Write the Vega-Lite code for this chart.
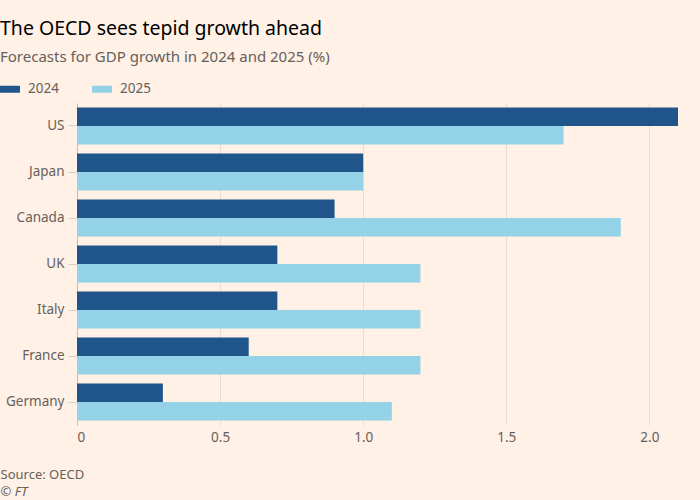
{
  "$schema": "https://vega.github.io/schema/vega-lite/v6.json",
  "width": 601,
  "height": 322,
  "autosize": {"type": "none"},
  "padding": {"left": 77, "top": 103, "right": 22, "bottom": 75},
  "background": "#FFF1E5",
  "title": {
    "text": "The OECD sees tepid growth ahead",
    "subtitle": "Forecasts for GDP growth in 2024 and 2025 (%)",
    "anchor": "start",
    "frame": "group",
    "dx": -77,
    "offset": 13,
    "font": "Noto Sans",
    "fontSize": 19.5,
    "fontWeight": "normal",
    "color": "#000000",
    "subtitleFont": "Noto Sans",
    "subtitleFontSize": 15,
    "subtitleColor": "#66605c",
    "subtitlePadding": 11
  },
  "data": {
    "values": [
      {"country": "US", "year": "2024", "growth": 2.1},
      {"country": "US", "year": "2025", "growth": 1.7},
      {"country": "Japan", "year": "2024", "growth": 1.0},
      {"country": "Japan", "year": "2025", "growth": 1.0},
      {"country": "Canada", "year": "2024", "growth": 0.9},
      {"country": "Canada", "year": "2025", "growth": 1.9},
      {"country": "UK", "year": "2024", "growth": 0.7},
      {"country": "UK", "year": "2025", "growth": 1.2},
      {"country": "Italy", "year": "2024", "growth": 0.7},
      {"country": "Italy", "year": "2025", "growth": 1.2},
      {"country": "France", "year": "2024", "growth": 0.6},
      {"country": "France", "year": "2025", "growth": 1.2},
      {"country": "Germany", "year": "2024", "growth": 0.3},
      {"country": "Germany", "year": "2025", "growth": 1.1}
    ]
  },
  "mark": {"type": "bar"},
  "encoding": {
    "y": {
      "field": "country",
      "type": "nominal",
      "sort": ["US", "Japan", "Canada", "UK", "Italy", "France", "Germany"],
      "scale": {"paddingInner": 0.2, "paddingOuter": 0.1},
      "axis": {
        "title": "© FT",
        "titleAngle": 0,
        "titleX": -77,
        "titleY": 388,
        "titleAlign": "left",
        "titleBaseline": "middle",
        "titleFont": "Noto Sans",
        "titleFontSize": 13,
        "titleFontWeight": "normal",
        "titleFontStyle": "italic",
        "titleColor": "#66605c",
        "labelFont": "Noto Sans",
        "labelFontSize": 13.5,
        "labelColor": "#66605c",
        "labelPadding": 4,
        "tickSize": 9,
        "tickColor": "#d9cfc6",
        "domainColor": "#c0bcb8",
        "grid": false
      }
    },
    "yOffset": {"field": "year", "type": "nominal", "sort": ["2024", "2025"]},
    "x": {
      "field": "growth",
      "type": "quantitative",
      "scale": {"domain": [0, 2.1], "nice": false},
      "axis": {
        "values": [0, 0.5, 1, 1.5, 2],
        "labelExpr": "datum.value == 0 ? '0' : format(datum.value, '.1f')",
        "title": "Source: OECD",
        "titleX": -77,
        "titleY": 49,
        "titleAlign": "left",
        "titleBaseline": "middle",
        "titleFont": "Noto Sans",
        "titleFontSize": 13,
        "titleFontWeight": "normal",
        "titleColor": "#66605c",
        "labelFont": "Noto Sans",
        "labelFontSize": 13.5,
        "labelColor": "#66605c",
        "labelPadding": 5,
        "ticks": false,
        "domain": false,
        "grid": true,
        "gridColor": "#e9ddd2"
      }
    },
    "color": {
      "field": "year",
      "type": "nominal",
      "scale": {"domain": ["2024", "2025"], "range": ["#1f558b", "#94d2e8"]},
      "legend": {
        "title": null,
        "orient": "none",
        "legendX": -77,
        "legendY": -24,
        "direction": "horizontal",
        "symbolType": "M-1,-0.35H1V0.35H-1Z",
        "symbolSize": 400,
        "symbolStrokeWidth": 0,
        "labelFont": "Noto Sans",
        "labelFontSize": 13.5,
        "labelColor": "#66605c",
        "labelOffset": 8,
        "columnPadding": 33
      }
    }
  },
  "config": {"view": {"stroke": null}}
}
